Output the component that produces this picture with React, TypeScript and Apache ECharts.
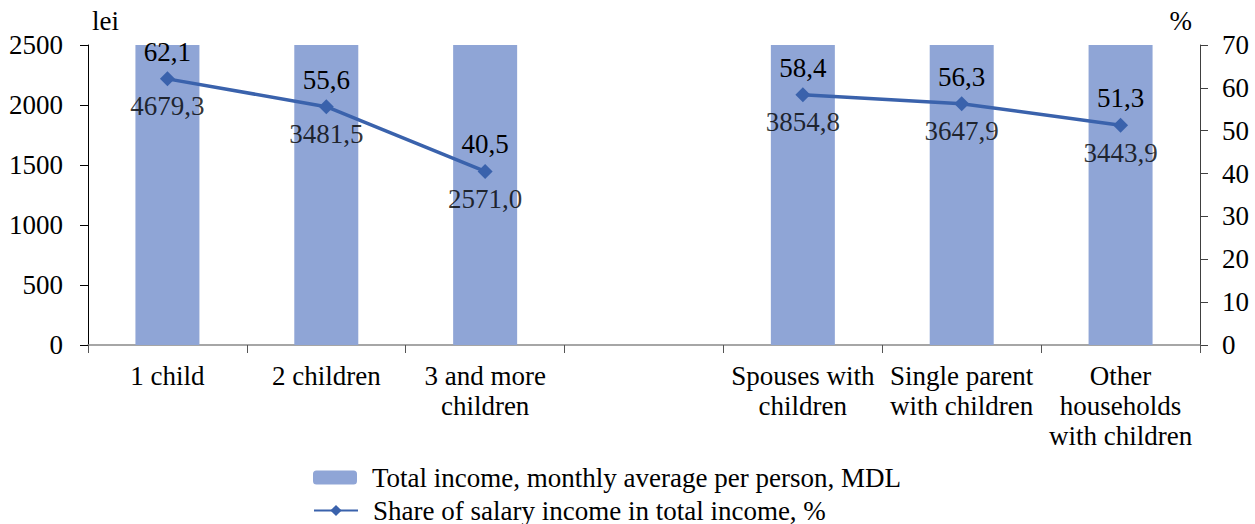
import React, { useEffect, useRef } from "react";
import * as echarts from "echarts";

const categories = [
  "1 child",
  "2 children",
  "3 and more\nchildren",
  "",
  "Spouses with\nchildren",
  "Single parent\nwith children",
  "Other\nhouseholds\nwith children",
];
const totalIncome: (number | null)[] = [4679.3, 3481.5, 2571.0, null, 3854.8, 3647.9, 3443.9];
const salaryShare: (number | null)[] = [62.1, 55.6, 40.5, null, 58.4, 56.3, 51.3];
const leftTicks = { min: 0, max: 2500, interval: 500 };
const rightTicks = { min: 0, max: 70, interval: 10 };
const barName = "Total income, monthly average per person, MDL";
const lineName = "Share of salary income in total income, %";

const FONT = '"Liberation Serif", "Times New Roman", serif';
const FS = 27;
const fmt = (v: number) => v.toFixed(1).replace(".", ",");
const txt = { fontFamily: FONT, fontSize: FS, color: "#000", fontWeight: "normal" as const };

export default function App() {
  const ref = useRef<HTMLDivElement>(null);
  useEffect(() => {
    if (!ref.current) return;
    const chart = echarts.init(ref.current, undefined, { renderer: "svg" });
    const legendCommon = {
      orient: "horizontal",
      left: 313,
      padding: 0,
      itemWidth: 44,
      itemHeight: 14,
      textStyle: { ...txt, padding: [0, 0, 0, 10] },
    };
    chart.setOption({
      animation: false,
      textStyle: { fontFamily: FONT, color: "#000" },
      grid: { left: 88, right: 55, top: 45, bottom: 179 },
      legend: [
        { ...legendCommon, top: 464, data: [barName] },
        { ...legendCommon, top: 497, data: [lineName] },
      ],
      xAxis: {
        type: "category",
        data: categories,
        axisLine: { lineStyle: { color: "#898989", width: 1.5 } },
        axisTick: { show: true, length: 8, lineStyle: { color: "#555" } },
        axisLabel: { ...txt, interval: 0, lineHeight: 30, margin: 16 },
      },
      yAxis: [
        {
          type: "value",
          ...leftTicks,
          name: "lei",
          nameLocation: "end",
          nameGap: 11,
          nameTextStyle: { ...txt, align: "left", padding: [0, 0, 0, 4] },
          splitLine: { show: false },
          axisLine: { show: true, lineStyle: { color: "#000" } },
          axisTick: { show: true, length: 8, lineStyle: { color: "#000" } },
          axisLabel: { ...txt, margin: 25, formatter: (v: number) => String(v) },
        },
        {
          type: "value",
          ...rightTicks,
          name: "%",
          nameLocation: "end",
          nameGap: 11,
          nameTextStyle: { ...txt, align: "right", padding: [0, 8, 0, 0] },
          splitLine: { show: false },
          axisLine: { show: true, lineStyle: { color: "#404040" } },
          axisTick: { show: true, length: 8, lineStyle: { color: "#404040" } },
          axisLabel: { ...txt, margin: 22, formatter: (v: number) => String(v) },
        },
      ],
      series: [
        {
          name: barName,
          type: "bar",
          data: totalIncome,
          yAxisIndex: 0,
          barWidth: 64,
          clip: true,
          itemStyle: { color: "#8FA5D6" },
        },
        {
          name: lineName,
          type: "line",
          data: salaryShare,
          yAxisIndex: 1,
          connectNulls: false,
          symbol: "diamond",
          symbolSize: 15,
          itemStyle: { color: "#3A62AC" },
          lineStyle: { color: "#3A62AC", width: 3.5 },
          label: {
            show: true,
            position: "top",
            distance: 6,
            ...txt,
            textBorderWidth: 0,
            formatter: (p: any) => fmt(p.value),
          },
          z: 3,
        },
        {
          name: "barLabels",
          type: "scatter",
          data: salaryShare,
          yAxisIndex: 1,
          symbolSize: 0,
          silent: true,
          label: {
            show: true,
            position: "bottom",
            distance: 14,
            ...txt,
            textBorderWidth: 0,
            formatter: (p: any) => {
              const v = totalIncome[p.dataIndex];
              return v == null ? "" : fmt(v);
            },
          },
          z: 4,
        },
      ],
    });
    return () => chart.dispose();
  }, []);
  return <div ref={ref} style={{ width: 1255, height: 524, position: "absolute", left: 0, top: 0 }} />;
}
